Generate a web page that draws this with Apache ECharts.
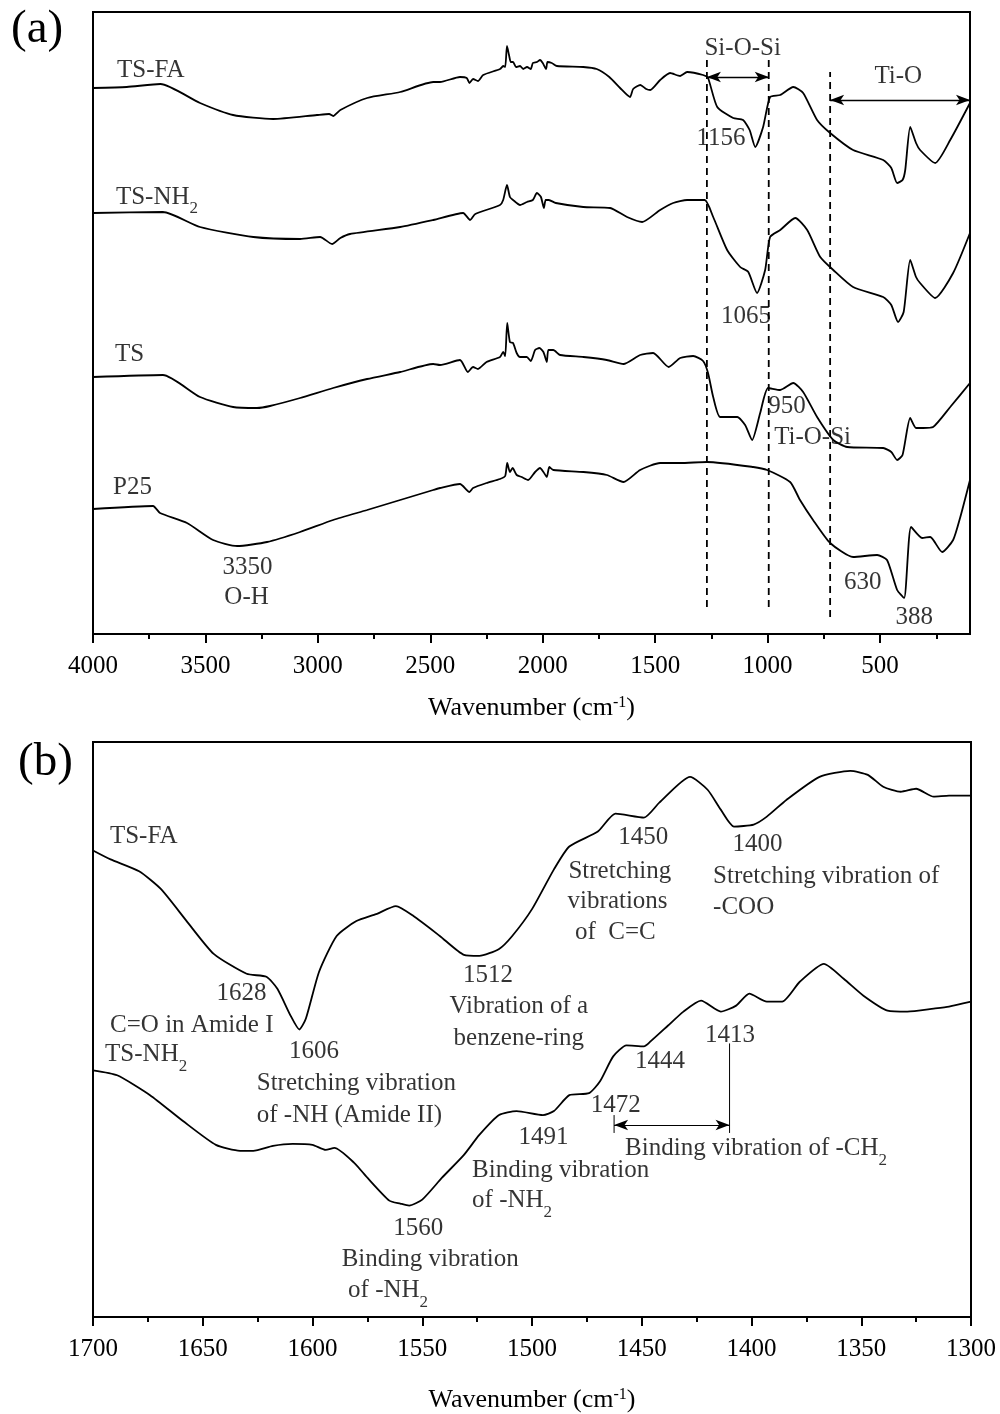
<!DOCTYPE html>
<html><head><meta charset="utf-8">
<script src="https://cdn.jsdelivr.net/npm/echarts@6/dist/echarts.min.js"></script>
<style>html,body{margin:0;padding:0;background:#fff}#c{width:1000px;height:1414px}</style>
</head><body><div id="c"></div>
<script>
// ---------- Panel (a): FT-IR spectra, wavenumber (cm-1) vs offset transmittance (a.u.) ----------
const tsfaA = [[4000,546],[3850,547],[3700,550],[3524,531],[3377,519],[3199,515],[3004,519],[2950,520],[2932,518],[2900,524],[2781,536],[2634,542],[2487,552],[2457,552],[2368,557],[2338,556],[2326,551],[2310,555],[2288,553],[2265,559],[2190,565],[2176,568],[2167,567],[2159,588],[2150,579],[2142,572],[2132,572],[2119,567],[2101,568],[2087,565],[2070,567],[2053,565],[2044,571],[2026,572],[2012,574],[2000,571],[1985,565],[1979,572],[1960,571],[1937,568],[1820,567],[1760,565],[1704,557],[1656,546],[1612,537],[1598,545],[1566,549],[1540,545],[1522,544],[1478,554],[1434,561],[1389,558],[1358,562],[1287,559],[1265,556],[1224,527],[1153,516],[1109,514],[1080,504],[1055,487],[1020,507],[989,537],[944,539],[886,547],[842,541],[780,514],[722,501],[620,484],[486,474],[450,466],[424,451],[400,454],[388,464],[366,507],[340,491],[322,484],[255,471],[188,494],[100,531]];
const tsnh2A = [[4000,421],[3689,422],[3524,407],[3287,397],[3079,395],[2990,397],[2937,390],[2900,396],[2857,400],[2634,407],[2487,414],[2354,421],[2323,414],[2300,420],[2190,429],[2176,434],[2159,449],[2146,437],[2132,434],[2101,429],[2070,432],[2044,434],[2026,441],[2008,437],[1995,426],[1987,434],[1973,434],[1942,431],[1820,427],[1700,426],[1625,417],[1558,412],[1478,424],[1420,431],[1358,434],[1280,434],[1242,417],[1180,384],[1122,367],[1086,362],[1047,341],[1011,364],[989,397],[944,404],[877,416],[824,404],[766,377],[708,364],[620,347],[486,337],[450,329],[420,312],[395,322],[366,374],[340,357],[322,351],[255,336],[175,361],[100,401]];
const tsA = [[4000,257],[3689,259],[3524,237],[3377,227],[3271,226],[3213,228],[3079,236],[2932,246],[2781,255],[2634,262],[2487,270],[2457,269],[2368,274],[2333,262],[2310,267],[2288,265],[2250,272],[2190,277],[2176,282],[2167,278],[2158,311],[2146,292],[2132,291],[2116,281],[2101,277],[2071,277],[2053,273],[2034,284],[2015,286],[1997,282],[1982,272],[1975,284],[1953,284],[1923,279],[1819,277],[1715,274],[1641,270],[1567,279],[1509,281],[1440,267],[1389,276],[1331,278],[1287,273],[1265,261],[1242,237],[1211,217],[1135,217],[1100,209],[1069,194],[1033,221],[998,246],[944,244],[886,251],[842,242],[780,217],[708,194],[646,187],[486,186],[450,182],[424,174],[400,179],[366,216],[340,206],[308,206],[264,207],[188,227],[100,251]];
const p25A = [[4000,125],[3733,128],[3702,121],[3582,111],[3466,94],[3359,88],[3226,92],[3079,102],[2932,114],[2781,124],[2634,134],[2487,144],[2457,146],[2368,150],[2326,142],[2310,146],[2250,151],[2190,155],[2167,158],[2158,171],[2146,162],[2134,166],[2116,159],[2094,157],[2065,154],[2034,162],[2012,166],[1997,162],[1982,157],[1971,167],[1953,164],[1819,162],[1715,159],[1641,152],[1567,164],[1478,171],[1389,171],[1269,172],[1064,167],[1002,164],[900,152],[856,134],[798,114],[722,91],[620,77],[513,79],[469,74],[424,44],[393,36],[362,107],[313,96],[277,97],[224,82],[175,94],[143,117],[100,154]];

const ticksA = [4000,3500,3000,2500,2000,1500,1000,500];
const minorTicksA = [3750,3250,2750,2250,1750,1250,750,250];
// dashed guide lines: [wavenumber, from level, to level]
const guidesA = [[1270,27,576],[995,27,576],[722,17,562]];
// double arrows: [from wavenumber, to wavenumber, level]
const arrowsA = [[1270,995,557],[722,100,534]];
// annotations: [text, wavenumber, level, anchor]
const labelsA = [
  ['TS-FA',3893,564,'left'],['TS-NH{s|2}',3898,437,'left'],['TS',3902,280,'left'],['P25',3911,147,'left'],
  ['3350',3313,67,'center'],['O-H',3317,37,'center'],['Si-O-Si',1111,586,'center'],['Ti-O',419,558,'center'],
  ['1156',1207,496,'center'],['1065',1096,318,'center'],['950',914,228,'center'],['Ti-O-Si',800,197,'center'],
  ['630',577,52,'center'],['388',348,17,'center']
];

// ---------- Panel (b) ----------
const tsfaB = [[1700,469],[1692,460],[1679,448],[1669,430],[1657,397],[1645,365],[1630,345],[1621,342],[1616,330],[1610,303],[1606,289],[1603,300],[1597,347],[1589,383],[1580,398],[1571,405],[1562,413],[1554,403],[1542,383],[1531,364],[1524,363],[1515,370],[1509,383],[1500,410],[1490,450],[1483,473],[1470,488],[1462,506],[1449,502],[1442,517],[1428,543],[1420,530],[1414,510],[1408,493],[1399,495],[1393,503],[1384,520],[1369,543],[1355,549],[1347,545],[1340,533],[1332,528],[1325,531],[1317,523],[1310,524],[1300,524]];
const tsnh2B = [[1700,248],[1689,243],[1674,223],[1659,197],[1644,173],[1633,167],[1627,167],[1618,172],[1609,174],[1600,173],[1594,168],[1590,170],[1581,155],[1575,140],[1565,117],[1560,114],[1556,112],[1550,118],[1541,140],[1531,163],[1524,183],[1515,203],[1507,207],[1495,203],[1490,207],[1483,223],[1474,225],[1469,237],[1463,262],[1457,273],[1449,272],[1446,277],[1438,293],[1431,307],[1423,318],[1414,307],[1407,313],[1401,325],[1393,317],[1386,317],[1378,337],[1367,355],[1358,340],[1349,323],[1338,308],[1329,307],[1317,310],[1310,312],[1300,317]];
const guidesB = [[1410,185,275],[1462.6,185,203]];
const arrowsB = [[1462.6,1410,193]];
const labelsB = [
  ['TS-FA',1692.3,483,'left'],['1628',1632.3,325,'center'],['C=O in Amide I',1655,293,'center'],
  ['TS-NH{s|2}',1694.5,264,'left'],['1606',1599.3,267,'center'],
  ['Stretching vibration',1625.4,235,'left'],['of -NH (Amide II)',1625.4,203,'left'],
  ['1512',1520,343,'center'],['Vibration of a',1506,312,'center'],['benzene-ring',1506,280,'center'],
  ['1450',1449.3,482,'center'],['Stretching',1460,448,'center'],['vibrations',1461,418,'center'],['of  C=C',1462,387,'center'],
  ['1400',1397.3,475,'center'],['Stretching vibration of',1417.5,443,'left'],['-COO',1417.5,412,'left'],
  ['1413',1409.8,283,'center'],['1444',1441.7,257,'center'],['1472',1461.8,213,'center'],['1491',1494.8,180,'center'],
  ['Binding vibration',1527.3,147,'left'],['of -NH{s|2}',1527.3,117,'left'],
  ['Binding vibration of -CH{s|2}',1457.6,169,'left'],
  ['1560',1551.8,89,'center'],['Binding vibration',1586.7,58,'left'],['of -NH{s|2}',1583.8,27,'left']
];

const FONT = "'Liberation Serif','Times New Roman',serif";
const FS = 25;
const richSub = { s: { fontSize: 17, fontFamily: FONT, color:'#000', verticalAlign:'bottom', lineHeight: 17 } };
const nameRich = { sup: { fontSize: 16, fontFamily: FONT, color:'#000', verticalAlign:'top', lineHeight: 14 } };
const plain = v => String(v);

function curve(data, gi) {
  return { type:'line', xAxisIndex: gi===0?0:2, yAxisIndex: gi, data, symbol:'none', smooth:0.2,
    lineStyle:{ color:'#000', width:1.8 }, silent:true };
}
function guides(list, gi) {
  return list.map(g => ({ type:'line', xAxisIndex: gi===0?0:2, yAxisIndex: gi, data:[[g[0],g[1]],[g[0],g[2]]],
    symbol:'none', silent:true, lineStyle:{ color:'#000', width: gi===0?1.8:1, type: gi===0?[7,5]:'solid' } }));
}
function arrows(list, gi) {
  return { type:'line', xAxisIndex: gi===0?0:2, yAxisIndex: gi, data:[], silent:true,
    markLine:{ silent:true, symbol:['arrow','arrow'], symbolSize:[8,14], label:{show:false},
      lineStyle:{ color:'#000', width: gi===0?1.4:1, type:'solid' },
      data: list.map(a => [{ coord:[a[0],a[2]] }, { coord:[a[1],a[2]] }]) } };
}
function labels(list, gi) {
  return { type:'scatter', xAxisIndex: gi===0?0:2, yAxisIndex: gi, silent:true, symbolSize:1,
    itemStyle:{ color:'rgba(0,0,0,0)' },
    data: list.map(l => ({ value:[l[1], l[2]], name:l[0],
      label:{ show:true, position:'inside', formatter: l[0], align:l[3], verticalAlign:'middle',
        color:'#000', textBorderWidth:0, fontSize:FS, lineHeight:41, fontFamily:FONT, rich: richSub } })) };
}
function axisX(gi, extra) {
  return Object.assign({ gridIndex: gi, type:'value', inverse:true, splitLine:{show:false},
    axisLine:{ show:true, onZero:false, lineStyle:{ color:'#000', width:2 } },
    axisTick:{ show:true, length:9, lineStyle:{ color:'#000', width:2 } },
    axisLabel:{ show:true, margin:20, color:'#000', fontSize:FS, fontFamily:FONT, formatter: plain },
    name:'Wavenumber (cm{sup|-1})', nameLocation:'middle',
    nameTextStyle:{ color:'#000', fontSize:26, fontFamily:FONT, rich: nameRich } }, extra);
}

const option = {
  animation:false, backgroundColor:'#fff',
  title:[
    { text:'(a)', left:6, top:1, textStyle:{ fontSize:47, fontWeight:'normal', fontFamily:FONT, color:'#000' } },
    { text:'(b)', left:13, top:734, textStyle:{ fontSize:47, fontWeight:'normal', fontFamily:FONT, color:'#000' } }
  ],
  grid:[
    { left:93, top:12, width:877, height:622, show:true, borderColor:'#000', borderWidth:2 },
    { left:93, top:742, width:878, height:578, show:true, borderColor:'#000', borderWidth:2 }
  ],
  xAxis:[
    axisX(0, { min:100, max:4000, nameGap:61,
      axisTick:{ show:true, customValues: ticksA, length:9, lineStyle:{ color:'#000', width:2 } },
      axisLabel:{ show:true, customValues: ticksA, margin:20, color:'#000', fontSize:FS, fontFamily:FONT, formatter: plain } }),
    { gridIndex:0, type:'value', inverse:true, min:100, max:4000, position:'bottom',
      axisLine:{show:false}, axisLabel:{show:false}, splitLine:{show:false},
      axisTick:{ show:true, customValues: minorTicksA, length:5, lineStyle:{ color:'#000', width:2 } } },
    axisX(1, { min:1300, max:1700, interval:50, nameGap:70,
      minorTick:{ show:true, splitNumber:2, length:5, lineStyle:{ color:'#000', width:2 } } })
  ],
  yAxis:[
    { gridIndex:0, type:'value', min:0, max:622, show:false },
    { gridIndex:1, type:'value', min:0, max:578, show:false }
  ],
  series:[
    curve(tsfaA,0), curve(tsnh2A,0), curve(tsA,0), curve(p25A,0),
    ...guides(guidesA,0), arrows(arrowsA,0), labels(labelsA,0),
    curve(tsfaB,1), curve(tsnh2B,1),
    ...guides(guidesB,1), arrows(arrowsB,1), labels(labelsB,1)
  ]
};
const chart = echarts.init(document.getElementById('c'), null, { renderer:'canvas' });
chart.setOption(option);
</script></body></html>
